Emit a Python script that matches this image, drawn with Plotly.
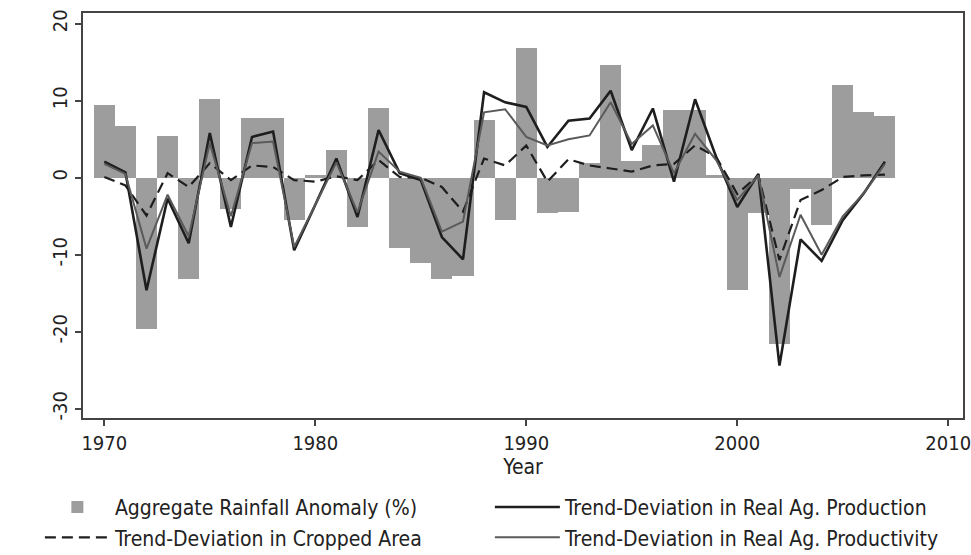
import plotly.graph_objects as go

years = list(range(1970, 2008))

rainfall = [9.4, 6.7, -19.7, 5.4, -13.2, 10.2, -4.0, 7.7, 7.7, -5.5,
            0.3, 3.6, -6.4, 9.1, -9.1, -11.1, -13.1, -12.7, 7.5, -5.5,
            16.8, -4.6, -4.4, 1.9, 14.7, 2.2, 4.3, 8.8, 8.8, 0.3,
            -14.6, -4.6, -21.6, -1.5, -6.1, 12.1, 8.5, 8.0]

production = [2.1, 0.7, -14.6, -2.7, -8.5, 5.8, -6.4, 5.3, 6.0, -9.4,
              -3.5, 2.5, -5.1, 6.2, 0.6, -0.3, -7.7, -10.6, 11.1, 9.8,
              9.2, 4.0, 7.4, 7.7, 11.3, 3.6, 9.0, -0.5, 10.2, 2.7,
              -3.8, 0.5, -24.4, -8.0, -10.8, -5.5, -2.0, 2.1]

cropped_area = [0.1, -1.0, -4.9, 0.6, -1.2, 1.9, -0.3, 1.6, 1.4, -0.3,
                -0.5, 0.2, -0.3, 2.3, 0.1, 0.0, -1.2, -4.4, 2.5, 1.6,
                4.2, -0.5, 2.4, 1.6, 1.2, 0.8, 1.6, 1.8, 4.2, 2.7,
                -2.1, 0.3, -10.7, -2.9, -1.6, 0.1, 0.3, 0.4]

productivity = [1.8, 0.5, -9.2, -2.2, -7.6, 4.5, -5.0, 4.5, 4.7, -9.0,
                -3.5, 2.0, -4.5, 3.4, 0.8, 0.0, -7.0, -5.7, 8.5, 8.9,
                5.3, 4.2, 5.0, 5.5, 9.8, 4.4, 6.8, 0.6, 5.7, 2.3,
                -2.9, 0.3, -12.9, -4.8, -10.0, -5.0, -2.0, 1.8]

x_ticks = [1970, 1980, 1990, 2000, 2010]
y_ticks = [-30, -20, -10, 0, 10, 20]
y_tick_labels = ["-30", "-20", "-10", "0", "10", "20"]

FONT = "DejaVu Sans Condensed, Liberation Sans Narrow, Arial Narrow, sans-serif"

fig = go.Figure()
fig.add_trace(go.Bar(x=years, y=rainfall, width=1.0,
                     marker=dict(color="#9d9d9d", line=dict(width=0)),
                     name="Aggregate Rainfall Anomaly (%)"))
fig.add_trace(go.Scatter(x=years, y=production, mode="lines",
                         line=dict(color="#1e1e1e", width=2.6),
                         name="Trend-Deviation in Real Ag. Production"))
fig.add_trace(go.Scatter(x=years, y=cropped_area, mode="lines",
                         line=dict(color="#1e1e1e", width=2.2, dash="11px,6px"),
                         name="Trend-Deviation in Cropped Area"))
fig.add_trace(go.Scatter(x=years, y=productivity, mode="lines",
                         line=dict(color="#5a5a5a", width=2.0),
                         name="Trend-Deviation in Real Ag. Productivity"))

axis_common = dict(showgrid=False, zeroline=False, showline=True, mirror=True,
                   linecolor="#444444", linewidth=2, ticks="outside",
                   ticklen=6, tickwidth=1.5, tickcolor="#444444",
                   ticklabeloverflow="allow",
                   tickfont=dict(family=FONT, size=20, color="#222222"))

fig.update_layout(
    width=971, height=555,
    margin=dict(l=83, r=8, t=13, b=137, autoexpand=False),
    paper_bgcolor="white", plot_bgcolor="white",
    bargap=0,
    font=dict(family=FONT, size=20, color="#222222"),
    xaxis=dict(range=[1968.99, 2010.7], tickvals=x_ticks,
               title=dict(text="Year", standoff=0,
                          font=dict(family=FONT, size=21, color="#222222")),
               **axis_common),
    yaxis=dict(range=[-31.2, 21.4], tickvals=y_ticks, ticktext=y_tick_labels,
               tickangle=-90, **axis_common),
    legend=dict(orientation="h",
                x=-0.049, y=-0.170, xanchor="left", yanchor="top",
                entrywidth=370, entrywidthmode="pixels",
                traceorder="normal", itemwidth=65, tracegroupgap=0,
                font=dict(family=FONT, size=21, color="#222222"),
                bgcolor="rgba(0,0,0,0)"),
)

fig.write_html("out.html")
